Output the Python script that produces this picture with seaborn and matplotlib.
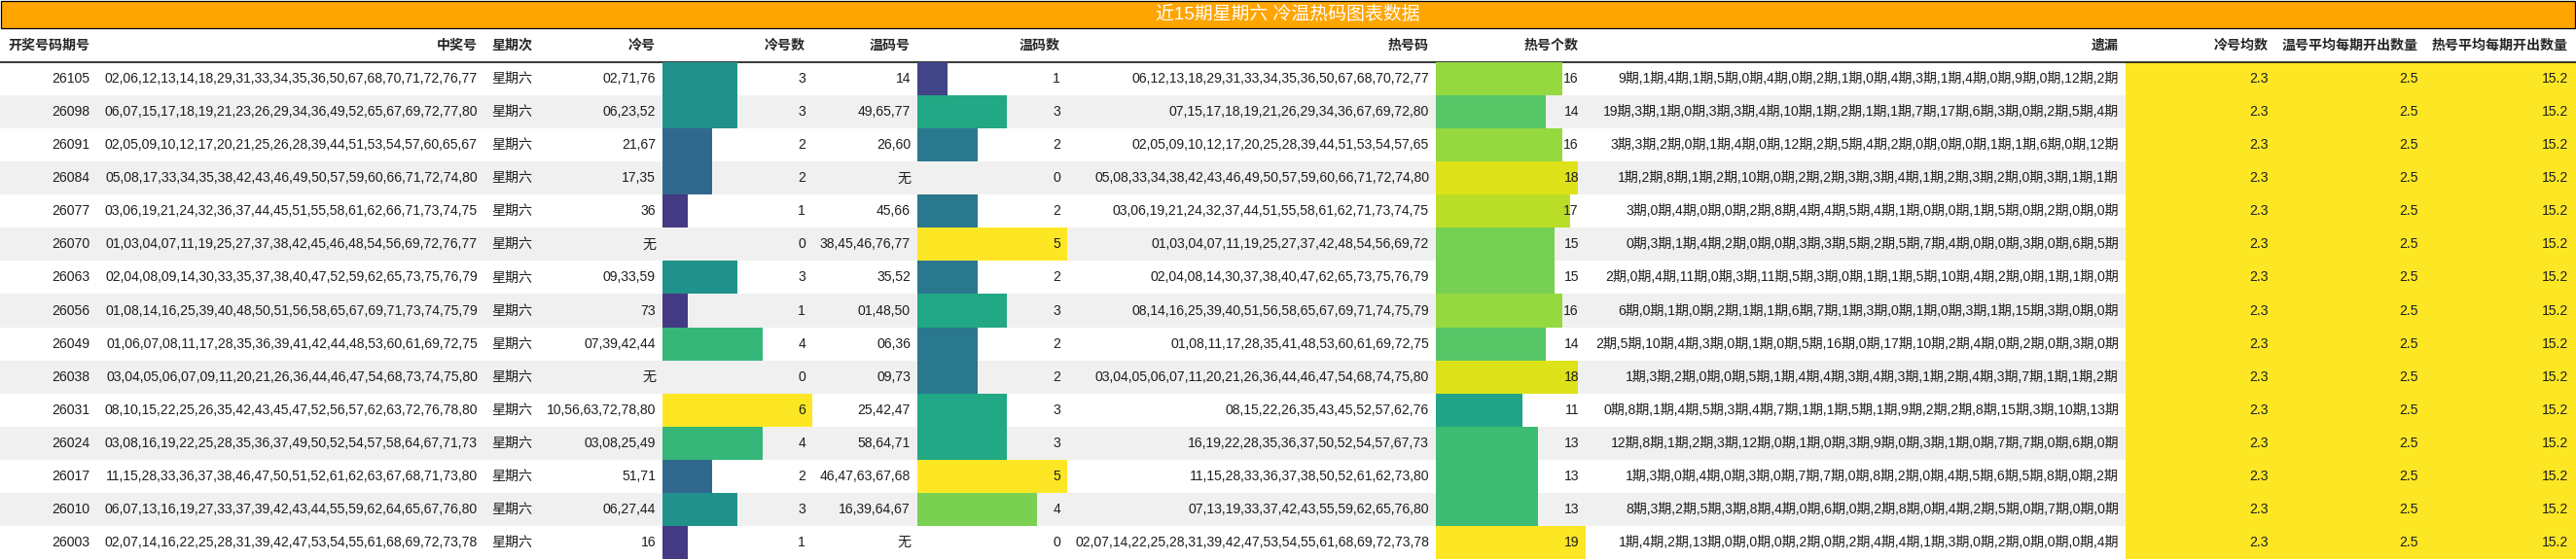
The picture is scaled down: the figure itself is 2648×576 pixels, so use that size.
import matplotlib
matplotlib.use("Agg")
import matplotlib.pyplot as plt
import matplotlib.transforms as mtransforms
from matplotlib.patches import Rectangle
import seaborn as sns

# ==========================================
# DATA
# ==========================================
TITLE = "近15期星期六 冷温热码图表数据"

periods = ["26105", "26098", "26091", "26084", "26077", "26070", "26063", "26056",
           "26049", "26038", "26031", "26024", "26017", "26010", "26003"]

winning_numbers = [
    "02,06,12,13,14,18,29,31,33,34,35,36,50,67,68,70,71,72,76,77",
    "06,07,15,17,18,19,21,23,26,29,34,36,49,52,65,67,69,72,77,80",
    "02,05,09,10,12,17,20,21,25,26,28,39,44,51,53,54,57,60,65,67",
    "05,08,17,33,34,35,38,42,43,46,49,50,57,59,60,66,71,72,74,80",
    "03,06,19,21,24,32,36,37,44,45,51,55,58,61,62,66,71,73,74,75",
    "01,03,04,07,11,19,25,27,37,38,42,45,46,48,54,56,69,72,76,77",
    "02,04,08,09,14,30,33,35,37,38,40,47,52,59,62,65,73,75,76,79",
    "01,08,14,16,25,39,40,48,50,51,56,58,65,67,69,71,73,74,75,79",
    "01,06,07,08,11,17,28,35,36,39,41,42,44,48,53,60,61,69,72,75",
    "03,04,05,06,07,09,11,20,21,26,36,44,46,47,54,68,73,74,75,80",
    "08,10,15,22,25,26,35,42,43,45,47,52,56,57,62,63,72,76,78,80",
    "03,08,16,19,22,25,28,35,36,37,49,50,52,54,57,58,64,67,71,73",
    "11,15,28,33,36,37,38,46,47,50,51,52,61,62,63,67,68,71,73,80",
    "06,07,13,16,19,27,33,37,39,42,43,44,55,59,62,64,65,67,76,80",
    "02,07,14,16,22,25,28,31,39,42,47,53,54,55,61,68,69,72,73,78",
]

weekday = "星期六"

cold_numbers = ["02,71,76", "06,23,52", "21,67", "17,35", "36", "无", "09,33,59", "73",
                "07,39,42,44", "无", "10,56,63,72,78,80", "03,08,25,49", "51,71", "06,27,44", "16"]
cold_counts = [3, 3, 2, 2, 1, 0, 3, 1, 4, 0, 6, 4, 2, 3, 1]

warm_numbers = ["14", "49,65,77", "26,60", "无", "45,66", "38,45,46,76,77", "35,52", "01,48,50",
                "06,36", "09,73", "25,42,47", "58,64,71", "46,47,63,67,68", "16,39,64,67", "无"]
warm_counts = [1, 3, 2, 0, 2, 5, 2, 3, 2, 2, 3, 3, 5, 4, 0]

hot_numbers = [
    "06,12,13,18,29,31,33,34,35,36,50,67,68,70,72,77",
    "07,15,17,18,19,21,26,29,34,36,67,69,72,80",
    "02,05,09,10,12,17,20,25,28,39,44,51,53,54,57,65",
    "05,08,33,34,38,42,43,46,49,50,57,59,60,66,71,72,74,80",
    "03,06,19,21,24,32,37,44,51,55,58,61,62,71,73,74,75",
    "01,03,04,07,11,19,25,27,37,42,48,54,56,69,72",
    "02,04,08,14,30,37,38,40,47,62,65,73,75,76,79",
    "08,14,16,25,39,40,51,56,58,65,67,69,71,74,75,79",
    "01,08,11,17,28,35,41,48,53,60,61,69,72,75",
    "03,04,05,06,07,11,20,21,26,36,44,46,47,54,68,74,75,80",
    "08,15,22,26,35,43,45,52,57,62,76",
    "16,19,22,28,35,36,37,50,52,54,57,67,73",
    "11,15,28,33,36,37,38,50,52,61,62,73,80",
    "07,13,19,33,37,42,43,55,59,62,65,76,80",
    "02,07,14,22,25,28,31,39,42,47,53,54,55,61,68,69,72,73,78",
]
hot_counts = [16, 14, 16, 18, 17, 15, 15, 16, 14, 18, 11, 13, 13, 13, 19]

missing_periods = [
    [9, 1, 4, 1, 5, 0, 4, 0, 2, 1, 0, 4, 3, 1, 4, 0, 9, 0, 12, 2],
    [19, 3, 1, 0, 3, 3, 4, 10, 1, 2, 1, 1, 7, 17, 6, 3, 0, 2, 5, 4],
    [3, 3, 2, 0, 1, 4, 0, 12, 2, 5, 4, 2, 0, 0, 0, 1, 1, 6, 0, 12],
    [1, 2, 8, 1, 2, 10, 0, 2, 2, 3, 3, 4, 1, 2, 3, 2, 0, 3, 1, 1],
    [3, 0, 4, 0, 0, 2, 8, 4, 4, 5, 4, 1, 0, 0, 1, 5, 0, 2, 0, 0],
    [0, 3, 1, 4, 2, 0, 0, 3, 3, 5, 2, 5, 7, 4, 0, 0, 3, 0, 6, 5],
    [2, 0, 4, 11, 0, 3, 11, 5, 3, 0, 1, 1, 5, 10, 4, 2, 0, 1, 1, 0],
    [6, 0, 1, 0, 2, 1, 1, 6, 7, 1, 3, 0, 1, 0, 3, 1, 15, 3, 0, 0],
    [2, 5, 10, 4, 3, 0, 1, 0, 5, 16, 0, 17, 10, 2, 4, 0, 2, 0, 3, 0],
    [1, 3, 2, 0, 0, 5, 1, 4, 4, 3, 4, 3, 1, 2, 4, 3, 7, 1, 1, 2],
    [0, 8, 1, 4, 5, 3, 4, 7, 1, 1, 5, 1, 9, 2, 2, 8, 15, 3, 10, 13],
    [12, 8, 1, 2, 3, 12, 0, 1, 0, 3, 9, 0, 3, 1, 0, 7, 7, 0, 6, 0],
    [1, 3, 0, 4, 0, 3, 0, 7, 7, 0, 8, 2, 0, 4, 5, 6, 5, 8, 0, 2],
    [8, 3, 2, 5, 3, 8, 4, 0, 6, 0, 2, 8, 0, 4, 2, 5, 0, 7, 0, 0],
    [1, 4, 2, 13, 0, 0, 0, 2, 0, 2, 4, 4, 1, 3, 0, 2, 0, 0, 0, 4],
]

cold_avg = 2.3
warm_avg = 2.5
hot_avg = 15.2

headers = ["开奖号码期号", "中奖号", "星期次", "冷号", "冷号数", "温码号", "温码数",
           "热号码", "热号个数", "遗漏", "冷号均数", "温号平均每期开出数量", "热号平均每期开出数量"]

# ==========================================
# LAYOUT (pixels)
# ==========================================
FIG_W, FIG_H = 2648, 576
DPI = 100
TITLE_H = 28
TOP = 64
ROW_H = 34.07
PAD = 7
FS = 10.1          # ~14px
TEXT_COLOR = "#1e1e1e"
STRIPE = "#f0f0f0"

# right edges of the cells (text is right aligned at edge - PAD)
CELL_RIGHT = {
    "period": 99, "winning": 498, "cold": 681, "cold_n": 835, "warm": 943, "warm_n": 1097,
    "hot": 1476, "hot_n": 1630, "missing": 2185, "cold_avg": 2339, "warm_avg": 2493, "hot_avg": 2647,
}
WEEKDAY_LEFT = 505
BAR_W = 154


def row_center(i):
    return TOP + (i + 0.5) * ROW_H


def draw_bar_column(fig, left, values, cmap):
    n = len(values)
    ax = fig.add_axes([left / FIG_W, 1 - (TOP + n * ROW_H) / FIG_H,
                       BAR_W / FIG_W, n * ROW_H / FIG_H])
    vmax = max(values)
    palette = {p: cmap(v / vmax) for p, v in zip(periods, values)}
    sns.barplot(x=values, y=periods, hue=periods, palette=palette, order=periods,
                hue_order=periods, orient="h", width=1.0, saturation=1, errorbar=None,
                linewidth=0, legend=False, ax=ax)
    ax.set_xlim(0, vmax)
    ax.set_ylim(n - 0.5, -0.5)
    ax.axis("off")
    ax.patch.set_alpha(0)

    # count labels sit on top of the bars
    trans = mtransforms.blended_transform_factory(ax.transAxes, ax.transData)
    for i, v in enumerate(values):
        ax.text(1 - PAD / BAR_W, i, str(v), transform=trans, ha="right", va="center",
                fontsize=FS, color=TEXT_COLOR)
    return ax


def make_table():
    sns.set_theme(style="white")
    plt.rcParams["font.family"] = ["Liberation Sans", "Noto Sans CJK SC", "DejaVu Sans"]
    cmap = sns.color_palette("viridis", as_cmap=True)

    fig = plt.figure(figsize=(FIG_W / DPI, FIG_H / DPI), dpi=DPI)
    ax = fig.add_axes([0, 0, 1, 1])
    ax.set_xlim(0, FIG_W)
    ax.set_ylim(FIG_H, 0)
    ax.axis("off")

    n = len(periods)

    # ------------------------------------------
    # 1. TITLE BAR + HEADER
    # ------------------------------------------
    ax.add_patch(Rectangle((0.5, 0.5), FIG_W - 1.5, TITLE_H, facecolor="#FFA500",
                           edgecolor="black", lw=0.9))
    ax.text(FIG_W / 2, TITLE_H / 2 + 1, TITLE, ha="center", va="center",
            fontsize=13.6, color="white")

    head_y = (TITLE_H + TOP) / 2 + 1
    ax.text(8, head_y, headers[0], ha="left", va="center", fontsize=FS, fontweight="bold")
    ax.text(WEEKDAY_LEFT, head_y, headers[2], ha="left", va="center", fontsize=FS, fontweight="bold")
    right_keys = ["winning", "cold", "cold_n", "warm", "warm_n", "hot", "hot_n",
                  "missing", "cold_avg", "warm_avg", "hot_avg"]
    for key, label in zip(right_keys, headers[1:2] + headers[3:]):
        ax.text(CELL_RIGHT[key] - PAD, head_y, label, ha="right", va="center",
                fontsize=FS, fontweight="bold")
    ax.axhline(TOP, color="black", lw=1.1)

    # ------------------------------------------
    # 2. ROW STRIPES + AVERAGE BLOCK
    # ------------------------------------------
    for i in range(n):
        if i % 2 == 1:
            ax.add_patch(Rectangle((0, TOP + i * ROW_H), FIG_W, ROW_H, facecolor=STRIPE, lw=0))
    ax.add_patch(Rectangle((CELL_RIGHT["missing"], TOP), FIG_W - CELL_RIGHT["missing"],
                           n * ROW_H, facecolor=cmap(1.0), lw=0))

    # ------------------------------------------
    # 3. CELL TEXT
    # ------------------------------------------
    for i in range(n):
        y = row_center(i)
        cells = [
            ("period", periods[i]),
            ("winning", winning_numbers[i]),
            ("cold", cold_numbers[i]),
            ("warm", warm_numbers[i]),
            ("hot", hot_numbers[i]),
            ("missing", ",".join(f"{m}期" for m in missing_periods[i])),
            ("cold_avg", f"{cold_avg:.1f}"),
            ("warm_avg", f"{warm_avg:.1f}"),
            ("hot_avg", f"{hot_avg:.1f}"),
        ]
        for key, s in cells:
            ax.text(CELL_RIGHT[key] - PAD, y, s, ha="right", va="center",
                    fontsize=FS, color=TEXT_COLOR)
        ax.text(WEEKDAY_LEFT, y, weekday, ha="left", va="center", fontsize=FS, color=TEXT_COLOR)

    # ------------------------------------------
    # 4. DATA BARS (cold / warm / hot counts)
    # ------------------------------------------
    draw_bar_column(fig, CELL_RIGHT["cold"], cold_counts, cmap)
    draw_bar_column(fig, CELL_RIGHT["warm"], warm_counts, cmap)
    draw_bar_column(fig, CELL_RIGHT["hot"], hot_counts, cmap)

    fig.savefig("out.png", dpi=DPI, facecolor="white")
    plt.close(fig)


if __name__ == "__main__":
    make_table()
